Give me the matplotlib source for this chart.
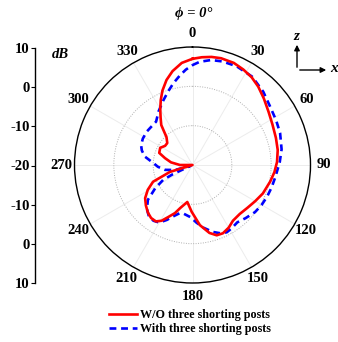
import numpy as np
import matplotlib
matplotlib.use("Agg")
import matplotlib.pyplot as plt
from matplotlib.lines import Line2D
from matplotlib.patches import FancyArrowPatch

# ---- data (angle in degrees, gain in dB) ----
red_angle = [0, 5, 10, 15, 22, 28, 34, 40, 47, 55, 63, 72, 80, 88, 95, 102, 112, 120,
             128, 136, 144, 150, 156, 161, 166, 173, 181, 188, 196, 200, 205, 209, 213,
             218, 223, 229, 235, 241, 247, 253, 261, 270, 277, 284, 290, 298, 305, 311,
             317, 322, 326, 330, 334, 338, 343, 348, 354, 360]
red_db = [7.0, 7.5, 7.9, 8.1, 8.0, 7.5, 6.9, 6.0, 4.8, 3.6, 2.8, 2.3, 2.0, 1.5, 0.9, 0.2,
          -0.7, -1.6, -2.3, -2.7, -2.5, -1.6, -1.0, -1.1, -2.2, -4.6, -8.1, -10.5, -8.6,
          -7.0, -5.4, -3.8, -2.9, -2.9, -3.4, -4.3, -5.3, -7.0, -9.1, -14.0, -20.0, -16.8,
          -14.5, -12.8, -11.0, -10.7, -11.5, -11.5, -10.3, -7.1, -5.5, -3.6, -1.6, 0.4,
          2.6, 4.4, 6.1, 7.0]

blue_angle = [0, 4, 10, 16, 24, 34, 44, 53, 62, 70, 80, 88, 98, 106, 113, 120, 127, 135,
              142, 148, 153, 158, 163, 170, 176, 182, 190, 195, 200, 205, 210, 215, 220,
              226, 232, 238, 243, 245, 248, 254, 260, 267, 273, 280, 286, 291, 298, 306,
              313, 320, 328, 336, 342, 347, 352, 356, 360]
blue_db = [5.4, 6.3, 7.1, 7.4, 7.5, 7.1, 5.9, 4.7, 4.1, 3.7, 3.0, 2.2, 1.3, 0.9, 0.6, 0.3,
           -0.1, -0.9, -1.5, -1.1, -0.8, -1.3, -2.2, -3.8, -5.3, -6.7, -7.4, -7.3, -6.2,
           -4.6, -3.1, -2.7, -2.8, -3.9, -5.6, -8.8, -11.6, -14.5, -19.5, -15.4, -12.9,
           -11.2, -10.0, -7.7, -6.6, -6.0, -5.7, -5.6, -5.7, -5.6, -3.8, -1.9, -0.2, 1.4,
           3.0, 4.3, 5.4]

theta_ticks = [0, 30, 60, 90, 120, 150, 180, 210, 240, 270, 300, 330]
theta_labels = [str(t) for t in theta_ticks]
left_ticks = [-30, -20, -10, 0, 10, 20, 30]
left_labels = ["10", "0", "-10", "-20", "-10", "0", "10"]
legend_labels = ["W/O three shorting posts", "With three shorting posts"]

SERIF = ['Liberation Serif', 'DejaVu Serif']
plt.rcParams['font.family'] = SERIF
plt.rcParams['font.weight'] = 'bold'

W, H = 338, 342
fig = plt.figure(figsize=(W / 100, H / 100), dpi=100)

cx, cy, R = 192.5, 165, 118
ax = fig.add_axes([(cx - R) / W, (H - cy - R) / H, 2 * R / W, 2 * R / H], projection='polar')
ax.set_theta_zero_location('N')
ax.set_theta_direction(-1)
ax.set_rlim(-20, 10)

ax.plot(np.deg2rad(red_angle), red_db, color='#ff0000', lw=1.9, zorder=4,
        solid_joinstyle='round')
ax.plot(np.deg2rad(blue_angle), blue_db, color='#0000ff', lw=1.9, dashes=(2.6, 1.8), zorder=3)

ax.set_rgrids([-10, 0], labels=['', ''])
ax.yaxis.grid(True, color='#b0b0b0', ls=(0, (1, 1.5)), lw=0.7)
ax.set_xticks(np.deg2rad(theta_ticks))
ax.set_xticklabels([''] * len(theta_ticks))
ax.set_xticks(np.deg2rad(np.arange(0, 360, 15)), minor=True)
ax.xaxis.grid(True, color='#ececec', lw=0.7)
ax.tick_params(axis='x', which='both', direction='in', length=3, width=0.7)
ax.spines['polar'].set_linewidth(1.0)
for t, lab in zip(theta_ticks, theta_labels):
    ax.text(np.deg2rad(t), 13.4, lab, fontsize=10.5, fontweight='bold',
            ha='center', va='center', clip_on=False)

# left dB axis
lax = fig.add_axes([35 / W, (H - 283) / H, 0.001, 235 / H])
lax.set_ylim(-30, 30)
lax.set_yticks(left_ticks)
lax.set_yticklabels(left_labels, fontsize=10.5, fontweight='bold')
lax.set_xticks([])
for s in ['top', 'right', 'bottom']:
    lax.spines[s].set_visible(False)
lax.spines['left'].set_linewidth(1.0)
lax.tick_params(axis='y', direction='out', length=3, width=0.8, pad=1)
lax.patch.set_visible(False)

fig.text(60 / W, 1 - 54 / H, 'dB', fontsize=10.5, fontstyle='italic', fontweight='bold',
         ha='center', va='center')
fig.text(194 / W, 1 - 14 / H, 'ϕ = 0°', fontsize=10.5, fontstyle='italic',
         fontweight='bold', ha='center', va='center', family=SERIF)

# coordinate glyph
fig.add_artist(FancyArrowPatch((297 / W, 1 - 70 / H), (297 / W, 1 - 42 / H),
               transform=fig.transFigure, arrowstyle='-|>', mutation_scale=8, lw=1, color='k'))
fig.add_artist(FancyArrowPatch((297 / W, 1 - 70 / H), (329 / W, 1 - 70 / H),
               transform=fig.transFigure, arrowstyle='-|>', mutation_scale=8, lw=1, color='k'))
fig.text(296 / W, 1 - 36 / H, 'z', fontsize=11, fontstyle='italic', fontweight='bold',
         ha='center', va='center')
fig.text(334 / W, 1 - 69 / H, 'x', fontsize=11, fontstyle='italic', fontweight='bold',
         ha='center', va='center')

handles = [Line2D([], [], color='#ff0000', lw=1.9),
           Line2D([], [], color='#0000ff', lw=1.9, dashes=(2.6, 1.8))]
fig.legend(handles, legend_labels, loc='upper left', bbox_to_anchor=(109 / W, 1 - 309 / H),
           frameon=False, handlelength=2.3, handletextpad=0.3,
           labelspacing=0.2, borderpad=0, borderaxespad=0,
           prop={'weight': 'bold', 'size': 8.7})

fig.savefig('out.png', dpi=100)
